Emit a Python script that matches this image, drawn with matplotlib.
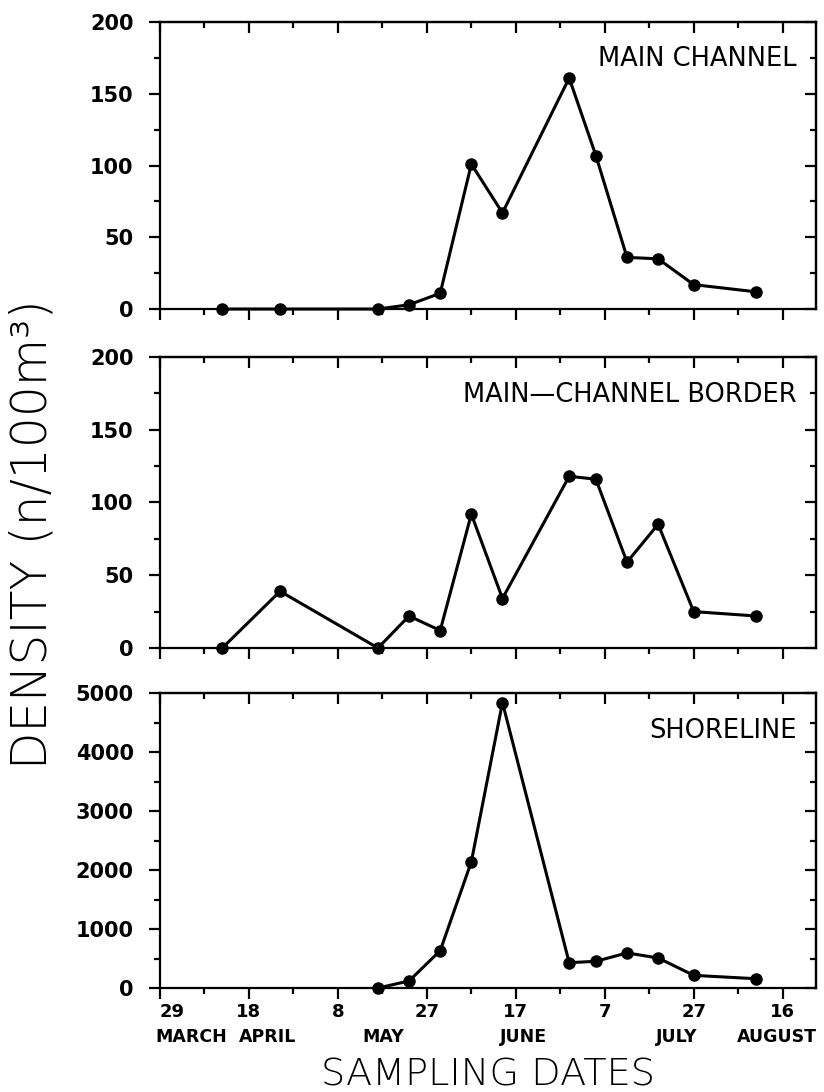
import matplotlib
matplotlib.use('Agg')
import matplotlib.pyplot as plt
import matplotlib.transforms as mtransforms
from matplotlib.ticker import MultipleLocator, NullFormatter

# sampling days, counted from 29 March
days = [14, 27, 49, 56, 63, 70, 77, 92, 98, 105, 112, 120, 134]
main_channel = [0, 0, 0, 3, 11, 101, 67, 161, 107, 36, 35, 17, 12]
border = [0, 39, 0, 22, 12, 92, 34, 118, 116, 59, 85, 25, 22]

shore_days = [49, 56, 63, 70, 77, 92, 98, 105, 112, 120, 134]
shoreline = [0, 120, 634, 2140, 4840, 430, 453, 595, 510, 215, 158]

# x axis ticks / labels
tick_days = [0, 20, 40, 60, 80, 100, 120, 140]
tick_labels = ['29', '18', '8', '27', '17', '7', '27', '16']
months = ['MARCH', 'APRIL', 'MAY', 'JUNE', 'JULY', 'AUGUST']
month_pos = [7.0, 24.3, 50.2, 81.7, 116.2, 138.6]

titles = ['MAIN CHANNEL', 'MAIN\u2014CHANNEL BORDER', 'SHORELINE']
ymax = [200, 200, 5000]
ystep = [50, 50, 1000]

plt.rcParams['font.family'] = 'DejaVu Sans'
plt.rcParams['font.weight'] = 'bold'
plt.rcParams['axes.linewidth'] = 1.6

fig = plt.figure(figsize=(8.24, 10.92), dpi=100)
boxes = [[0.1942, 0.7170, 0.7961, 0.2628],
         [0.1942, 0.4066, 0.7961, 0.2665],
         [0.1942, 0.0952, 0.7961, 0.2701]]

xs = [days, days, shore_days]
ys = [main_channel, border, shoreline]

axes = []
for i in range(3):
    ax = fig.add_axes(boxes[i])
    ax.plot(xs[i], ys[i], 'k-', marker='o', ms=8, lw=2.2, clip_on=False, zorder=3)
    ax.set_xlim(0, 147.5)
    ax.set_ylim(0, ymax[i])
    ax.set_xticks(tick_days)
    ax.xaxis.set_minor_locator(MultipleLocator(10))
    ax.set_yticks(range(0, ymax[i] + 1, ystep[i]))
    ax.yaxis.set_minor_locator(MultipleLocator(ystep[i] / 2))

    # left / bottom ticks point out
    ax.tick_params(which='both', direction='out', top=False, right=False, width=1.6)
    ax.tick_params(which='major', length=8)
    ax.tick_params(which='minor', length=4)
    ax.tick_params(axis='y', labelsize=15, pad=11)
    ax.tick_params(axis='x', labelsize=13, pad=3)

    # top / right ticks point in
    top = ax.secondary_xaxis('top')
    top.set_xticks(tick_days)
    top.xaxis.set_minor_locator(MultipleLocator(10))
    top.xaxis.set_major_formatter(NullFormatter())
    top.tick_params(which='both', direction='in', width=1.6)
    top.tick_params(which='major', length=8)
    top.tick_params(which='minor', length=4)

    right = ax.secondary_yaxis('right')
    right.set_yticks(range(0, ymax[i] + 1, ystep[i]))
    right.yaxis.set_minor_locator(MultipleLocator(ystep[i] / 2))
    right.yaxis.set_major_formatter(NullFormatter())
    right.tick_params(which='both', direction='in', width=1.6)
    right.tick_params(which='major', length=8)
    right.tick_params(which='minor', length=4)

    ax.text(0.971, 0.915, titles[i], transform=ax.transAxes, ha='right', va='top',
            fontsize=18.5, fontweight='normal')
    axes.append(ax)

axes[0].tick_params(axis='x', labelbottom=False)
axes[1].tick_params(axis='x', labelbottom=False)

ax3 = axes[2]
ax3.set_xticklabels(tick_labels)
ax3.get_xticklabels()[0].set_horizontalalignment('left')

trans = mtransforms.blended_transform_factory(ax3.transData, fig.transFigure)
for name, p in zip(months, month_pos):
    ax3.text(p, 0.0458, name, transform=trans, ha='center', va='baseline',
             fontsize=12.5, fontweight='bold', clip_on=False)

fig.text(0.592, 0.0064, 'SAMPLING DATES', ha='center', va='baseline',
         fontsize=27.5, fontweight='light')
fig.text(0.039, 0.511, 'DENSITY (n/100m\u00b3)', rotation=90, ha='center', va='center',
         fontsize=35, fontweight='light')

fig.savefig('out.png', dpi=100, facecolor='white')
